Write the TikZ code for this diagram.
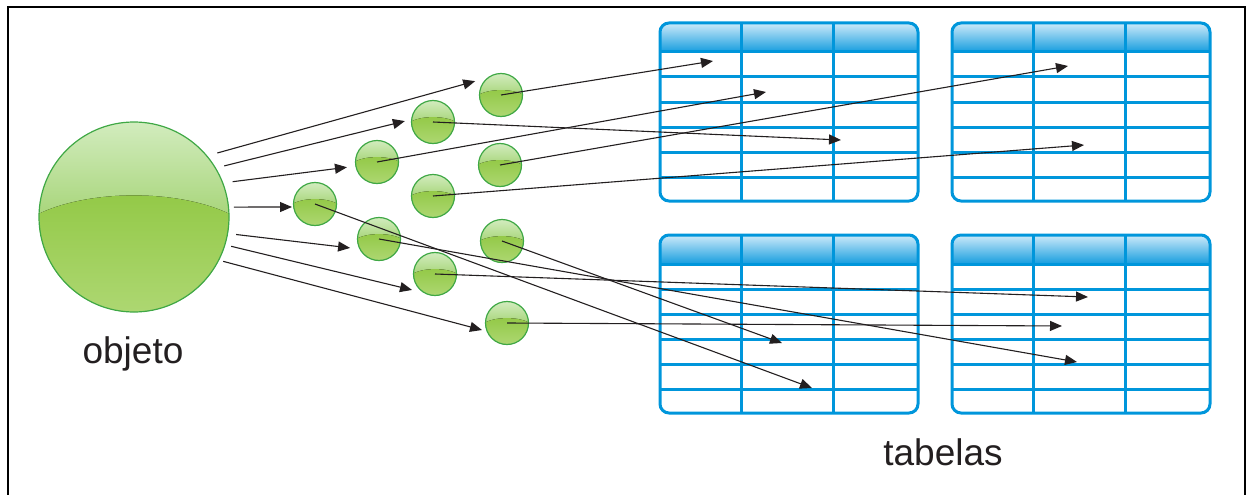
\documentclass[tikz,border=0pt]{standalone}
\usepackage{fontspec}
\setmainfont{Liberation Sans}
\usetikzlibrary{arrows.meta,calc}
\definecolor{linha}{HTML}{0096DB}
\definecolor{cabtopo}{HTML}{CDEAF9}
\definecolor{cabbase}{HTML}{159DDF}
\definecolor{bolaborda}{HTML}{3FA845}
\definecolor{bolatopo}{HTML}{D2ECBE}
\definecolor{bolameio}{HTML}{7DBE35}
\definecolor{domotopo}{HTML}{84C12E}
\definecolor{domobase}{HTML}{AFD875}
\definecolor{tinta}{HTML}{231F20}
\tikzset{
  bola/.style={circle, draw=bolaborda, line width=1.2pt, inner sep=0pt, outer sep=0pt,
    top color=bolatopo, bottom color=bolameio,
    path picture={
      \fill[top color=domotopo, bottom color=domobase]
        let \p1=(path picture bounding box.center), \p2=(path picture bounding box.east),
            \n1={\x2-\x1} in
        ({\x1-1.05*\n1},{\y1+0.01*\n1}) .. controls ({\x1-0.5*\n1},{\y1+0.3*\n1})
          and ({\x1+0.5*\n1},{\y1+0.3*\n1}) .. ({\x1+1.05*\n1},{\y1+0.01*\n1})
        -- ({\x1+1.05*\n1},{\y1-1.1*\n1}) -- ({\x1-1.05*\n1},{\y1-1.1*\n1}) -- cycle;
    }},
  grande/.style={bola, minimum size=190pt},
  pequena/.style={bola, minimum size=43pt},
  seta/.style={draw=tinta, line width=1.1pt, -{Triangle[length=12pt,width=10pt]}},
  grade/.style={draw=linha, line width=3pt},
  rotulo/.style={font=\fontsize{37}{44}\selectfont, text=tinta, anchor=base, inner sep=0pt}
}
\begin{document}
\begin{tikzpicture}[x=1pt,y=-1pt]
  \useasboundingbox (0,0) rectangle (1248,495);
  \draw[line width=2.5pt] (8,495) -- (8,7) -- (1245,7) -- (1245,495);

  % as quatro tabelas
  \foreach \tx/\ty in {660/23, 952/23, 660/235, 952/235}{
    \begin{scope}[shift={(\tx,\ty)}]
      \begin{scope}
        \clip[rounded corners=9pt] (0,0) rectangle (258,178);
        \fill[top color=cabtopo, bottom color=cabbase] (0,0) rectangle (258,29);
      \end{scope}
      \foreach \r in {29,54,...,154}
        \draw[grade] (0,\r) -- (258,\r);
      \draw[grade] (81,0) -- (81,178) (173,0) -- (173,178);
      \draw[grade, rounded corners=9pt] (0,0) rectangle (258,178);
    \end{scope}
  }

  % objeto e atributos
  \node[grande] (obj) at (134,217) {};
  \node[pequena] (a1) at (315,204) {};
  \node[pequena] (a2) at (377,162) {};
  \node[pequena] (a3) at (379,239) {};
  \node[pequena] (a4) at (433,122) {};
  \node[pequena] (a5) at (433,196) {};
  \node[pequena] (a6) at (435,274) {};
  \node[pequena] (a7) at (501,95) {};
  \node[pequena] (a8) at (500,165) {};
  \node[pequena] (a9) at (502,241) {};
  \node[pequena] (a10) at (507,323) {};

  \node[rotulo] (lobj) at (133,363) {objeto};
  \node[rotulo] (ltab) at (943,465) {tabelas};

  % campos nas tabelas
  \coordinate (f1) at (812,388);
  \coordinate (f2) at (766,92);
  \coordinate (f3) at (1077,362);
  \coordinate (f4) at (841,140);
  \coordinate (f5) at (1084,145);
  \coordinate (f6) at (1088,297);
  \coordinate (f7) at (713,61);
  \coordinate (f8) at (1068,66);
  \coordinate (f9) at (782,343);
  \coordinate (f10) at (1062,326);

  % objeto -> atributos
  \foreach \a/\t/\b/\s/\e in {40/a7/125/11/14, 31/a4/173/9/7, 21/a2/191/10/9,
      6/a1/188/5.5/1.7, -10/a3/208/8.6/10, -17/a6/243/6.5/13.6, -27/a10/203/4.7/5.4}
    \draw[seta, shorten <=\s pt, shorten >=\e pt] (obj.\a) -- (\t.\b);

  % atributos -> campos
  \foreach \i in {1,...,10}
    \draw[seta] (a\i.center) -- (f\i);
\end{tikzpicture}
\end{document}
